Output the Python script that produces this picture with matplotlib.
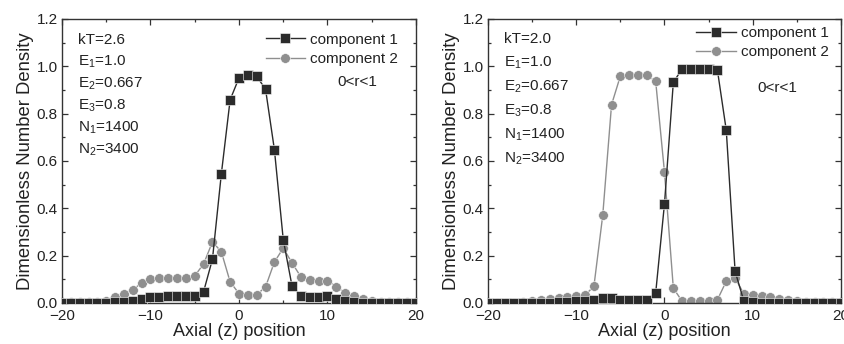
import matplotlib
matplotlib.use("Agg")
import matplotlib.pyplot as plt
from matplotlib.ticker import MultipleLocator
import numpy as np

plt.rcParams['font.family'] = ['Liberation Sans', 'DejaVu Sans']
plt.rcParams['mathtext.default'] = 'regular'

z = list(range(-20, 21))

# Left panel (kT=2.6)
left_c1 = [0, 0, 0, 0, 0, 0, 0.003, 0.005, 0.01, 0.015, 0.025,
           0.027, 0.028, 0.028, 0.028, 0.028, 0.048, 0.185, 0.544, 0.859,
           0.951, 0.963, 0.958, 0.903, 0.648, 0.268, 0.07, 0.031, 0.025,
           0.024, 0.028, 0.017, 0.007, 0.003, 0.001, 0, 0, 0, 0, 0, 0]
left_c2 = [0.003, 0.003, 0.003, 0.003, 0.005, 0.01, 0.024, 0.04, 0.056, 0.085, 0.10,
           0.105, 0.105, 0.105, 0.105, 0.115, 0.165, 0.258, 0.217, 0.089,
           0.04, 0.032, 0.035, 0.068, 0.173, 0.232, 0.169, 0.11, 0.096,
           0.094, 0.094, 0.068, 0.042, 0.028, 0.017, 0.01, 0.006, 0.004, 0.003, 0.003, 0.003]

# Right panel (kT=2.0)
right_c1 = [0, 0, 0, 0, 0, 0, 0, 0, 0.004, 0.006, 0.008,
            0.01, 0.014, 0.021, 0.021, 0.014, 0.014, 0.014, 0.014, 0.042,
            0.42, 0.932, 0.99, 0.99, 0.99, 0.99, 0.983, 0.73, 0.134,
            0.007, 0.003, 0.002, 0.002, 0.001, 0, 0, 0, 0, 0, 0, 0]
right_c2 = [0.002, 0.002, 0.002, 0.002, 0.003, 0.007, 0.011, 0.017, 0.021, 0.025, 0.031,
            0.034, 0.07, 0.37, 0.838, 0.959, 0.963, 0.963, 0.963, 0.937,
            0.552, 0.063, 0.007, 0.007, 0.007, 0.007, 0.014, 0.092, 0.106,
            0.038, 0.035, 0.031, 0.024, 0.018, 0.014, 0.008, 0.006, 0.005, 0.004, 0.004, 0.004]

left_text = ["kT=2.6", "E$_1$=1.0", "E$_2$=0.667", "E$_3$=0.8", "N$_1$=1400", "N$_2$=3400"]
right_text = ["kT=2.0", "E$_1$=1.0", "E$_2$=0.667", "E$_3$=0.8", "N$_1$=1400", "N$_2$=3400"]
labels = ["component 1", "component 2"]
xticks = [-20, -10, 0, 10, 20]
xticklabels = ["\u221220", "\u221210", "0", "10", "20"]
yticks = [0.0, 0.2, 0.4, 0.6, 0.8, 1.0, 1.2]

dark = '#2b2b2b'
gray = '#8f8f8f'

fig = plt.figure(figsize=(8.45, 3.44), dpi=100)
W, H = 845, 344
axL = fig.add_axes([62 / W, 1 - 303 / H, 354 / W, 284 / H])
axR = fig.add_axes([488 / W, 1 - 303 / H, 353 / W, 284 / H])

panels = [
    (axL, left_c1, left_c2, left_text, 22.0, 40, (0.575, 0.952), (0.835, 0.778)),
    (axR, right_c1, right_c2, right_text, 24.0, 39, (0.59, 0.975), (0.82, 0.757)),
]

for ax, c1, c2, txt, dy, y0, legpos, rpos in panels:
    ax.plot(z, c2, '-', color=gray, lw=1.0, marker='o', ms=7.0,
            mfc=gray, mec='white', mew=0.4, label=labels[1], zorder=2)
    ax.plot(z, c1, '-', color=dark, lw=1.0, marker='s', ms=6.5,
            mfc=dark, mec='white', mew=0.4, label=labels[0], zorder=3)
    ax.set_xlim(-20, 20)
    ax.set_ylim(0, 1.2)
    ax.set_xticks(xticks)
    ax.set_xticklabels(xticklabels)
    ax.set_yticks(yticks)
    ax.set_yticklabels([f"{v:.1f}" for v in yticks])
    ax.xaxis.set_minor_locator(MultipleLocator(5))
    ax.yaxis.set_minor_locator(MultipleLocator(0.1))
    ax.tick_params(which='both', direction='in', top=True, right=True,
                   labelsize=11, color='#333333', labelcolor='#222222')
    ax.tick_params(which='major', length=4, width=0.9)
    ax.tick_params(axis='x', which='major', pad=4)
    ax.tick_params(axis='y', which='major', pad=3)
    ax.tick_params(which='minor', length=2.5, width=0.9)
    for s in ax.spines.values():
        s.set_linewidth(1.0)
        s.set_color('#333333')
    ax.set_xlabel("Axial (z) position", fontsize=13, color='#222222', labelpad=0)
    ax.set_ylabel("Dimensionless Number Density", fontsize=13.3, color='#222222', labelpad=2)
    for i, t in enumerate(txt):
        y_px = y0 + i * dy
        ax.text(0.045, 1 - (y_px - 19) / 284, t, transform=ax.transAxes,
                fontsize=11, va='center', ha='left', color='#222222')
    h, l = ax.get_legend_handles_labels()
    leg = ax.legend(h[::-1], l[::-1], loc='upper left', bbox_to_anchor=legpos,
                    frameon=False, fontsize=11, handlelength=2.6, handletextpad=0.3,
                    labelspacing=0.35, borderpad=0, borderaxespad=0)
    for t in leg.get_texts():
        t.set_color('#222222')
    ax.text(rpos[0], rpos[1], "0<r<1", transform=ax.transAxes, fontsize=11,
            ha='center', va='center', color='#222222')

fig.savefig("out.png", dpi=100)
